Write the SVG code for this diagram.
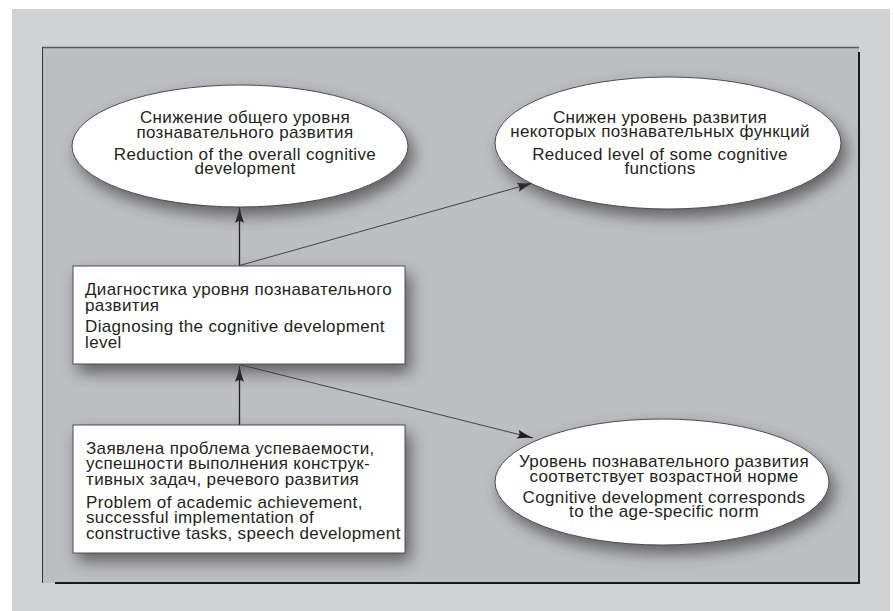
<svg xmlns="http://www.w3.org/2000/svg" width="894" height="611" viewBox="0 0 894 611">
<style>
.t{font-family:"Liberation Sans",Arial,sans-serif;font-size:17px;letter-spacing:0.35px;fill:#231f20}
.m{text-anchor:middle}
.node{fill:#ffffff;stroke:#4d4d4f;stroke-width:1}
.c{stroke:#231f20;fill:none}
.v{stroke-width:1.3}
.d{stroke-width:0.8}
</style>
<defs>
<filter id="sh" x="-20%" y="-30%" width="140%" height="170%">
<feDropShadow dx="5" dy="8" stdDeviation="8" flood-color="#3f4043" flood-opacity="0.75"/>
</filter>
<marker id="ah" markerUnits="userSpaceOnUse" viewBox="0 0 16 10" refX="16" refY="5" markerWidth="16" markerHeight="10" orient="auto">
<path d="M0,0.5 Q8,3.5 16,5 Q8,6.5 0,9.5 Q4,5 0,0.5 Z" fill="#231f20"/>
</marker>
</defs>
<rect x="0" y="0" width="894" height="611" fill="#ffffff"/>
<rect x="12" y="9" width="878" height="602" fill="#d1d2d4"/>
<rect x="42" y="47" width="817" height="536" fill="#bdbec2"/>
<line x1="42" y1="47.5" x2="859" y2="47.5" stroke="#58595b" stroke-width="1.5"/>
<line x1="42.5" y1="47" x2="42.5" y2="583" stroke="#333333" stroke-width="1"/>
<line x1="859" y1="52" x2="859" y2="584" stroke="#1a1a1a" stroke-width="2"/>
<line x1="55" y1="583" x2="860" y2="583" stroke="#1a1a1a" stroke-width="2"/>

<g id="connectors">
<line class="c v" x1="239.5" y1="425" x2="239.5" y2="366" marker-end="url(#ah)"/>
<line class="c v" x1="239.5" y1="266" x2="239.5" y2="207" marker-end="url(#ah)"/>
<line class="c d" x1="239.5" y1="265.5" x2="533" y2="183" marker-end="url(#ah)"/>
<line class="c d" x1="239.5" y1="364.5" x2="533" y2="438" marker-end="url(#ah)"/>
</g>

<g id="n1">
<ellipse class="node" cx="240" cy="146" rx="168" ry="61" filter="url(#sh)"/>
<text class="t m"><tspan x="245" y="123">Снижение общего уровня</tspan><tspan x="245" y="138">познавательного развития</tspan></text>
<text class="t m"><tspan x="245" y="160">Reduction of the overall cognitive</tspan><tspan x="245" y="174">development</tspan></text>
</g>

<g id="n2">
<ellipse class="node" cx="668" cy="143" rx="173" ry="66" filter="url(#sh)"/>
<text class="t m"><tspan x="660" y="123">Снижен уровень развития</tspan><tspan x="660" y="137">некоторых познавательных функций</tspan></text>
<text class="t m"><tspan x="660" y="160">Reduced level of some cognitive</tspan><tspan x="660" y="174">functions</tspan></text>
</g>

<g id="n3">
<rect class="node" x="73" y="266" width="332" height="98" filter="url(#sh)"/>
<text class="t"><tspan x="85" y="295">Диагностика уровня познавательного</tspan><tspan x="85" y="311">развития</tspan></text>
<text class="t"><tspan x="85" y="332">Diagnosing the cognitive development</tspan><tspan x="85" y="348">level</tspan></text>
</g>

<g id="n4">
<rect class="node" x="73" y="425" width="332" height="128" filter="url(#sh)"/>
<text class="t"><tspan x="86" y="454">Заявлена проблема успеваемости,</tspan><tspan x="86" y="469">успешности выполнения конструк-</tspan><tspan x="86" y="485">тивных задач, речевого развития</tspan></text>
<text class="t"><tspan x="86" y="508">Problem of academic achievement,</tspan><tspan x="86" y="523">successful implementation of</tspan><tspan x="86" y="539">constructive tasks, speech development</tspan></text>
</g>

<g id="n5">
<ellipse class="node" cx="662" cy="482" rx="167" ry="63" filter="url(#sh)"/>
<text class="t m"><tspan x="664" y="467">Уровень познавательного развития</tspan><tspan x="664" y="482">соответствует возрастной норме</tspan></text>
<text class="t m"><tspan x="664" y="503">Cognitive development corresponds</tspan><tspan x="664" y="517">to the age-specific norm</tspan></text>
</g>
</svg>
